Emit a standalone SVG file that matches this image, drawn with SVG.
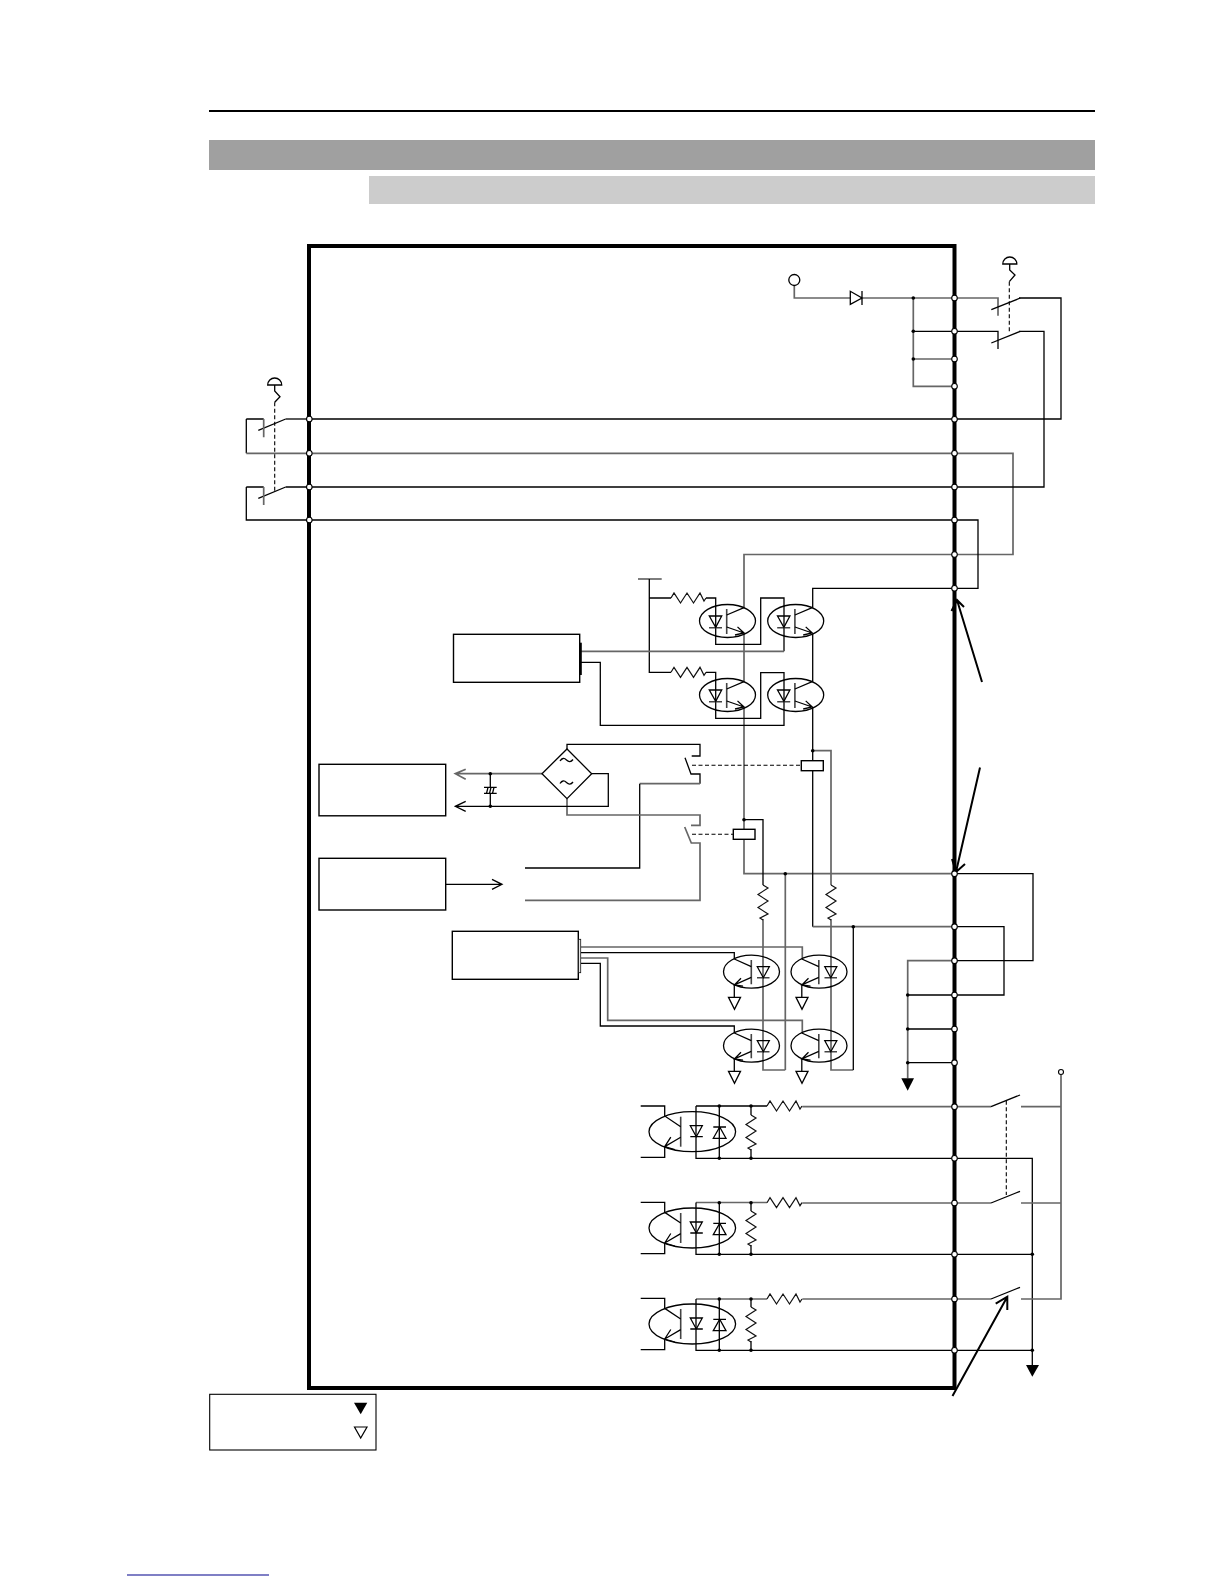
<svg xmlns="http://www.w3.org/2000/svg" xmlns:xlink="http://www.w3.org/1999/xlink" width="1224" height="1584" viewBox="0 0 1224 1584">
<style>
.k{fill:none;stroke:#000;stroke-width:1.3}
.g{fill:none;stroke:#666;stroke-width:1.7}
.s{fill:none;stroke:#111;stroke-width:1.2}
.t{fill:none;stroke:#000;stroke-width:1.3}
.bar{fill:none;stroke:#444;stroke-width:1.6}
.d{fill:none;stroke:#000;stroke-width:1.1;stroke-dasharray:4 2.5}
.dot{fill:#000;stroke:none}
.pin{fill:#fff;stroke:#000;stroke-width:1.1}
.box{fill:#fff;stroke:#000;stroke-width:1.4}
.big{fill:none;stroke:#000;stroke-width:2}
</style>
<defs>
<path id="r" class="s" d="M0 0L3-5L9.5 5L16-5L22.5 5L29-5L33 3L35 0"/>
<g id="optoA">
<ellipse class="k" rx="28" ry="16.5"/>
<path class="bar" d="M-.8-12V13M-18.5 6.7H-5.5"/>
<path class="k" d="M-.8-6L16.5-13.3M-.8 6L16.5 12M10 5.9L16.5 12L7.5 14"/>
<path class="t" d="M-18.2-5H-5.8L-11.8 6.3Z"/>
</g>
<g id="optoB">
<ellipse class="k" rx="28" ry="16.5"/>
<path class="bar" d="M-.2-11.7V12.6M5.5 6H18"/>
<path class="k" d="M-.2-5L-17.2-12.7M-.2 5.6L-17.2 13.3V25.5M-10.5 6.5L-17.2 13.3L-8.5 14.5"/>
<path class="t" d="M5.8-5H17.8L11.8 6ZM-23 25.6H-11L-17 37.6Z"/>
</g>
<g id="optoC">
<ellipse class="k" rx="43.3" ry="20"/>
<path class="bar" d="M-11.6-15V15"/>
<path class="k" d="M-11.6-5L-27.6-15.7V-25.7H-51.6M-11.6 5.6L-27.6 15V25.6H-51.6M-21.5 5.5L-27.6 15L-17.5 18"/>
<path class="t" d="M-2-6H10L4 5ZM-2 5H10.500M21-4.700H33.700M21 6.600H33.700L27.400-4.700Z"/>
</g>
<path id="sw" class="k" d="M0 0L29-11.700"/>
</defs>

<rect id="page-rule" x="209" y="110" width="886" height="2" fill="#000"/>
<rect id="title-bar" x="209" y="140" width="886" height="30" fill="#a0a0a0"/>
<rect id="subtitle-bar" x="369" y="176" width="726" height="28" fill="#cccccc"/>
<rect id="footer-link" x="127" y="1574.500" width="142" height="1" fill="#00008b"/>
<rect id="enclosure" x="309" y="246" width="645.500" height="1142" fill="none" stroke="#000" stroke-width="4"/>

<g id="connectors">
<path class="k" d="M246.300 419H263.700M246.300 419V453.300M309 419H954M954 419H1061V298H1019"/>
<path class="g" d="M246.300 453.300H954H1013V554.500H744V607.700M744 633V681.700M744 707V873.700H954"/>
<path class="k" d="M285.700 487H954H1044V331.300H1019"/>
<path class="k" d="M246.300 487H263.700M246.300 487V520H978V588.300H812.700V607.700"/>
<path class="k" d="M812.700 633.500V681.700M812.700 707V926.700"/>
<path class="g" d="M812.700 926.700H954"/>
<path class="k" d="M285.700 419H309"/>
<path class="g" d="M794.300 285.500V298H850.300M862 298H998V315.700"/>
<path class="k" d="M913.300 331.300H998V349"/>
<path class="g" d="M913.300 298V386.300H954M913.300 359H954"/>
<path class="g" d="M638 579H661.700"/>
<path class="k" d="M649.300 579V672.300H671M649.300 598H671M706 598H715.700V644.300H760.700V598H784V651.300M706 672.300H715.700V718.300H760.700V672.700H784V725.300H600.300V662.300H581"/>
<path class="g" d="M581 651.300H784"/>
<path class="g" d="M812.700 750.700H831V885M831 919V1070H853.300"/>
<path class="k" d="M853.300 1070V926.700"/>
<path class="k" d="M744 819.700H763V885"/>
<path class="g" d="M763 919V1070H785.300"/>
<path class="g" d="M785.300 1070V873.700"/>
<path class="g" d="M581 947H802.300V959M581 958H607.700V1020.300H802.300V1033"/>
<path class="k" d="M581 952.700H734.300V959M581 963.300H600.300V1026H734.300V1033"/>
<path class="k" d="M567 749V744.300H700V756H691.700M685 757.700L691 774H700V783.700"/>
<path class="g" d="M700 783.700H639.700"/>
<path class="k" d="M639.700 783.700V868H525"/>
<path class="g" d="M567 798.700V815H700V825.300H691M684.700 827L691.300 843H700V900.300H525"/>
<path class="g" d="M542 773.700H455.300M465.700 769.300L455.300 773.700L465.700 779.300"/>
<path class="k" d="M591.700 773.700H608.300V806.300H455.300M465.700 801.300L455.300 806.300L465.700 811.300M490.300 773.700V787.300M490.300 793.300V806.300M445.700 884.300H502M492 879.300L502 884.300L492 889.300"/>
<path class="g" d="M954 960.700H907.700V1078.300"/>
<path class="k" d="M907.700 995H954M907.700 1029H954M907.700 1062.700H954"/>
<path class="k" d="M954 873.700H1033V960.700H954M954 926.700H1004V995H954"/>
<path class="k" d="M696 1106H767M696 1106V1158.300H954M719.300 1106V1158.300M751 1106V1115M751 1149V1158.300"/>
<path class="g" d="M802.300 1106.700H954H991"/>
<path class="g" d="M696 1202.500H767M802.300 1203H991"/>
<path class="k" d="M696 1202.500V1254.300H1032.300M719.300 1202.500V1254.300M751 1202.500V1211M751 1245V1254.300"/>
<path class="g" d="M696 1299H767M802.300 1299H991"/>
<path class="k" d="M696 1299V1350.300H1032.300M719.300 1299V1350.300M751 1299V1307M751 1341V1350.300"/>
<path class="k" d="M954 1158.300H1032.300V1365"/>
<path class="g" d="M1021 1106.700H1061M1021 1203H1061M1021 1299H1061V1075"/>
<path class="d" d="M1009.300 281.700V333M274.700 402.300V493M692 765.300H801.300M692 834.300H733.300M1006.300 1100.700V1195"/>
<path class="big" d="M982 682L957 600M951.500 611L957 600L964 607"/>
<path class="big" d="M980 767.500L956 872M952 859L956 872L965 864"/>
<path class="big" d="M952.500 1396L1007.300 1296.700M995.700 1303.700L1007.300 1296.700L1007.300 1310"/>
</g>

<g id="switches">
<use href="#sw" transform="translate(991.300 309.700)"/>
<use href="#sw" transform="translate(991.300 343)"/>
<path class="k" d="M258.300 430.300L285.700 419M258.300 498.300L285.700 487"/>
<path class="g" d="M263.700 419V437.300M263.700 487V505"/>
<use href="#sw" transform="translate(991 1106.700)"/>
<use href="#sw" transform="translate(991 1203)"/>
<use href="#sw" transform="translate(991 1299)"/>
</g>

<g id="estop-right">
<path class="k" d="M1002.800 264A7 7 0 0 1 1016.800 264ZM1009.700 264V270L1015 275L1009.300 281.700"/>
</g>
<g id="estop-left">
<path class="k" d="M267.700 385A7 7 0 0 1 281.700 385ZM274.700 385V391L280 396.700L274.700 402.300"/>
</g>

<g id="supply-terminal"><circle class="k" cx="794.300" cy="280" r="5.500"/></g>
<g id="supply-diode"><path class="t" d="M850.300 291.300V304.300L862 298ZM862 291V305"/></g>

<g id="resistors">
<use href="#r" transform="translate(671 598)"/>
<use href="#r" transform="translate(671 672.300)"/>
<use href="#r" transform="translate(763 885) rotate(90)"/>
<use href="#r" transform="translate(831 885) rotate(90)"/>
<use href="#r" transform="translate(767 1106)"/>
<use href="#r" transform="translate(767 1202.700)"/>
<use href="#r" transform="translate(767 1299)"/>
<use href="#r" transform="translate(751 1115) rotate(90)"/>
<use href="#r" transform="translate(751 1211) rotate(90)"/>
<use href="#r" transform="translate(751 1307) rotate(90)"/>
</g>

<g id="optos">
<use href="#optoA" x="727.500" y="621"/>
<use href="#optoA" x="795.700" y="621"/>
<use href="#optoA" x="727.500" y="695"/>
<use href="#optoA" x="795.700" y="695"/>
<use href="#optoB" x="751.500" y="971.700"/>
<use href="#optoB" x="819" y="971.700"/>
<use href="#optoB" x="751.500" y="1045.700"/>
<use href="#optoB" x="819" y="1045.700"/>
<use href="#optoC" x="692.300" y="1131.700"/>
<use href="#optoC" x="692.300" y="1228"/>
<use href="#optoC" x="692.300" y="1324"/>
</g>

<g id="relay-1"><rect class="box" x="801.300" y="760.700" width="22" height="10"/></g>
<g id="relay-2"><rect class="box" x="733.300" y="829.300" width="21.700" height="10"/></g>

<g id="bridge">
<path class="t" d="M542 773.700L567 749L591.700 773.700L567 798.700Z"/>
<path class="k" d="M560 761Q563 756.500 566.500 760T573 759.500M560 783.500Q563 779 566.500 782.500T573 782"/>
</g>
<g id="capacitor">
<path class="k" d="M484 787.300H496.700M484 793.300H496.700M486.500 793.300L488 787.300M489.500 793.300L491 787.300M492.500 793.300L494 787.300"/>
</g>

<g id="block-1"><rect class="box" x="453.500" y="634.300" width="126.200" height="48"/><rect x="580" y="642.700" width="1.800" height="32.300" fill="#000"/></g>
<g id="block-2"><rect class="box" x="319" y="764.300" width="126.700" height="51.500"/></g>
<g id="block-3"><rect class="box" x="319" y="858.300" width="126.700" height="51.700"/></g>
<g id="block-4"><rect class="box" x="452.300" y="931.300" width="126" height="48"/><rect x="578.700" y="939.300" width="2" height="33.400" fill="#fff" stroke="#111" stroke-width=".8"/></g>

<g id="pins">
<circle class="pin" cx="309.300" cy="419" r="2.800"/><circle class="pin" cx="309.300" cy="453.300" r="2.800"/><circle class="pin" cx="309.300" cy="487" r="2.800"/><circle class="pin" cx="309.300" cy="520" r="2.800"/>
<circle class="pin" cx="954.500" cy="298" r="2.800"/><circle class="pin" cx="954.500" cy="331.300" r="2.800"/><circle class="pin" cx="954.500" cy="359" r="2.800"/><circle class="pin" cx="954.500" cy="386.300" r="2.800"/><circle class="pin" cx="954.500" cy="419.300" r="2.800"/><circle class="pin" cx="954.500" cy="453.300" r="2.800"/><circle class="pin" cx="954.500" cy="487" r="2.800"/><circle class="pin" cx="954.500" cy="520" r="2.800"/><circle class="pin" cx="954.500" cy="554.500" r="2.800"/><circle class="pin" cx="954.500" cy="588.300" r="2.800"/>
<circle class="pin" cx="954.500" cy="873.700" r="2.800"/><circle class="pin" cx="954.500" cy="926.700" r="2.800"/><circle class="pin" cx="954.500" cy="960.700" r="2.800"/><circle class="pin" cx="954.500" cy="995" r="2.800"/><circle class="pin" cx="954.500" cy="1029" r="2.800"/><circle class="pin" cx="954.500" cy="1062.700" r="2.800"/>
<circle class="pin" cx="954.500" cy="1106.700" r="2.800"/><circle class="pin" cx="954.500" cy="1158.300" r="2.800"/><circle class="pin" cx="954.500" cy="1203" r="2.800"/><circle class="pin" cx="954.500" cy="1254.300" r="2.800"/><circle class="pin" cx="954.500" cy="1299" r="2.800"/><circle class="pin" cx="954.500" cy="1350.300" r="2.800"/>
<circle class="pin" cx="1061" cy="1072" r="2.500"/>
</g>

<g id="junctions">
<circle class="dot" cx="913.300" cy="298" r="1.800"/><circle class="dot" cx="913.300" cy="331.300" r="1.800"/><circle class="dot" cx="913.300" cy="359" r="1.800"/>
<circle class="dot" cx="812.700" cy="750.700" r="1.800"/><circle class="dot" cx="744" cy="819.700" r="1.800"/><circle class="dot" cx="785.300" cy="873.700" r="1.800"/><circle class="dot" cx="853.300" cy="926.700" r="1.800"/>
<circle class="dot" cx="490.300" cy="773.700" r="1.800"/><circle class="dot" cx="490.300" cy="806.300" r="1.800"/>
<circle class="dot" cx="907.700" cy="995" r="1.800"/><circle class="dot" cx="907.700" cy="1029" r="1.800"/><circle class="dot" cx="907.700" cy="1062.700" r="1.800"/>
<circle class="dot" cx="719.300" cy="1106" r="1.800"/><circle class="dot" cx="751" cy="1106" r="1.800"/><circle class="dot" cx="719.300" cy="1158.300" r="1.800"/><circle class="dot" cx="751" cy="1158.300" r="1.800"/>
<circle class="dot" cx="719.300" cy="1202.700" r="1.800"/><circle class="dot" cx="751" cy="1202.700" r="1.800"/><circle class="dot" cx="719.300" cy="1254.300" r="1.800"/><circle class="dot" cx="751" cy="1254.300" r="1.800"/>
<circle class="dot" cx="719.300" cy="1299" r="1.800"/><circle class="dot" cx="751" cy="1299" r="1.800"/><circle class="dot" cx="719.300" cy="1350.300" r="1.800"/><circle class="dot" cx="751" cy="1350.300" r="1.800"/>
<circle class="dot" cx="1032.300" cy="1254.300" r="1.800"/><circle class="dot" cx="1032.300" cy="1350.300" r="1.800"/>
</g>

<g id="grounds">
<path d="M901.300 1078.300H914L907.700 1090.700Z" fill="#000"/>
<path d="M1026 1365H1039L1032.300 1376.700Z" fill="#000"/>
</g>

<g id="legend">
<rect x="209.700" y="1394.300" width="166.300" height="55.700" fill="#fff" stroke="#000" stroke-width="1.100"/>
<path d="M354 1402.700H367.300L360.700 1414.300Z" fill="#000"/>
<path d="M354.500 1427H367L360.700 1438Z" fill="#fff" stroke="#000" stroke-width="1.200"/>
</g>
</svg>
